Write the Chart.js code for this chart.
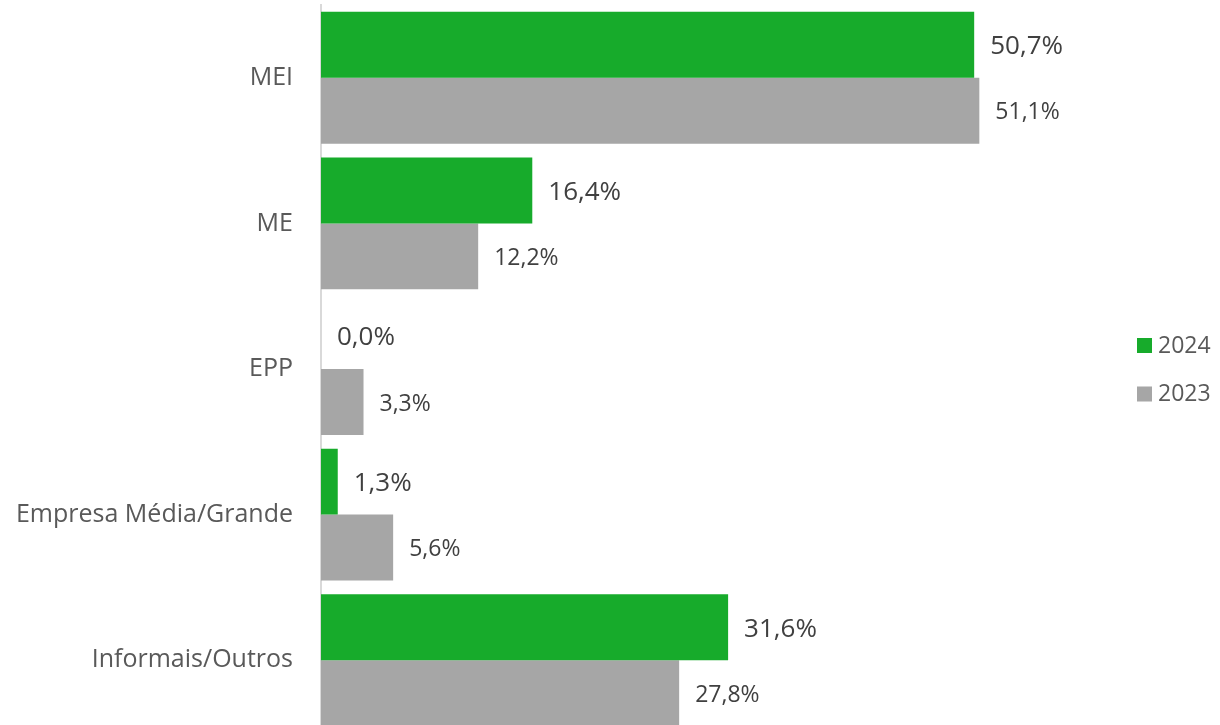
<!DOCTYPE html>
<html>
<head>
<meta charset="utf-8">
<script src="https://cdn.jsdelivr.net/npm/chart.js@4.4.1/dist/chart.umd.min.js"></script>
<style>
  html, body { margin: 0; padding: 0; background: #fff; overflow: hidden; }
  #wrap { position: relative; width: 1220px; height: 733px; }
</style>
</head>
<body>
<div id="wrap"><canvas id="chart"></canvas></div>
<script>
const categories = ['MEI', 'ME', 'EPP', 'Empresa Média/Grande', 'Informais/Outros'];
const values2024 = [50.7, 16.4, 0.0, 1.3, 31.6];
const values2023 = [51.1, 12.2, 3.3, 5.6, 27.8];
const seriesNames = ['2024', '2023'];
const colors = ['#17AB2B', '#A6A6A6'];

const FONT = '"Open Sans", "Noto Sans", sans-serif';

// value labels next to each bar, "50,7%" style
const barLabels = {
  id: 'barLabels',
  afterDatasetsDraw(chart) {
    const { ctx } = chart;
    ctx.save();
    chart.data.datasets.forEach((ds, i) => {
      const meta = chart.getDatasetMeta(i);
      ctx.font = (i === 0 ? '26px ' : '23px ') + FONT;
      ctx.fillStyle = '#404040';
      ctx.textBaseline = 'middle';
      ctx.textAlign = 'left';
      meta.data.forEach((bar, j) => {
        const txt = ds.data[j].toFixed(1).replace('.', ',') + '%';
        ctx.fillText(txt, bar.x + 16, bar.y + 2);
      });
    });
    ctx.restore();
  },
};

// legend drawn at the right side
const sideLegend = {
  id: 'sideLegend',
  afterDraw(chart) {
    const { ctx } = chart;
    ctx.save();
    ctx.font = '23px ' + FONT;
    ctx.textBaseline = 'middle';
    chart.data.datasets.forEach((ds, i) => {
      const y = 345 + i * 48.5;
      ctx.fillStyle = ds.backgroundColor;
      ctx.fillRect(1137, y - 7, 15, 15);
      ctx.fillStyle = '#595959';
      ctx.fillText(ds.label, 1158, y + 1);
    });
    ctx.restore();
  },
};

const config = {
  type: 'bar',
  data: {
    labels: categories,
    datasets: [
      { label: seriesNames[0], data: values2024, backgroundColor: colors[0] },
      { label: seriesNames[1], data: values2023, backgroundColor: colors[1] },
    ],
  },
  options: {
    indexAxis: 'y',
    responsive: false,
    animation: false,
    barPercentage: 1.0,
    categoryPercentage: 0.906,
    layout: { padding: { top: 5, right: 126, bottom: 0, left: 0 } },
    scales: {
      x: {
        display: false,
        min: 0,
        max: 60,
      },
      y: {
        grid: { display: false },
        border: { color: '#D9D9D9', width: 2 },
        ticks: {
          color: '#595959',
          font: { family: FONT, size: 25 },
          padding: 20,
        },
        afterFit(scale) {
          scale.width = 321;
          scale.paddingTop = 0;
          scale.paddingBottom = 0;
        },
      },
    },
    plugins: {
      legend: { display: false },
      tooltip: { enabled: false },
    },
  },
  plugins: [barLabels, sideLegend],
};

const cv = document.getElementById('chart');
cv.width = 1220;
cv.height = 733;
new Chart(cv, config);
</script>
</body>
</html>
